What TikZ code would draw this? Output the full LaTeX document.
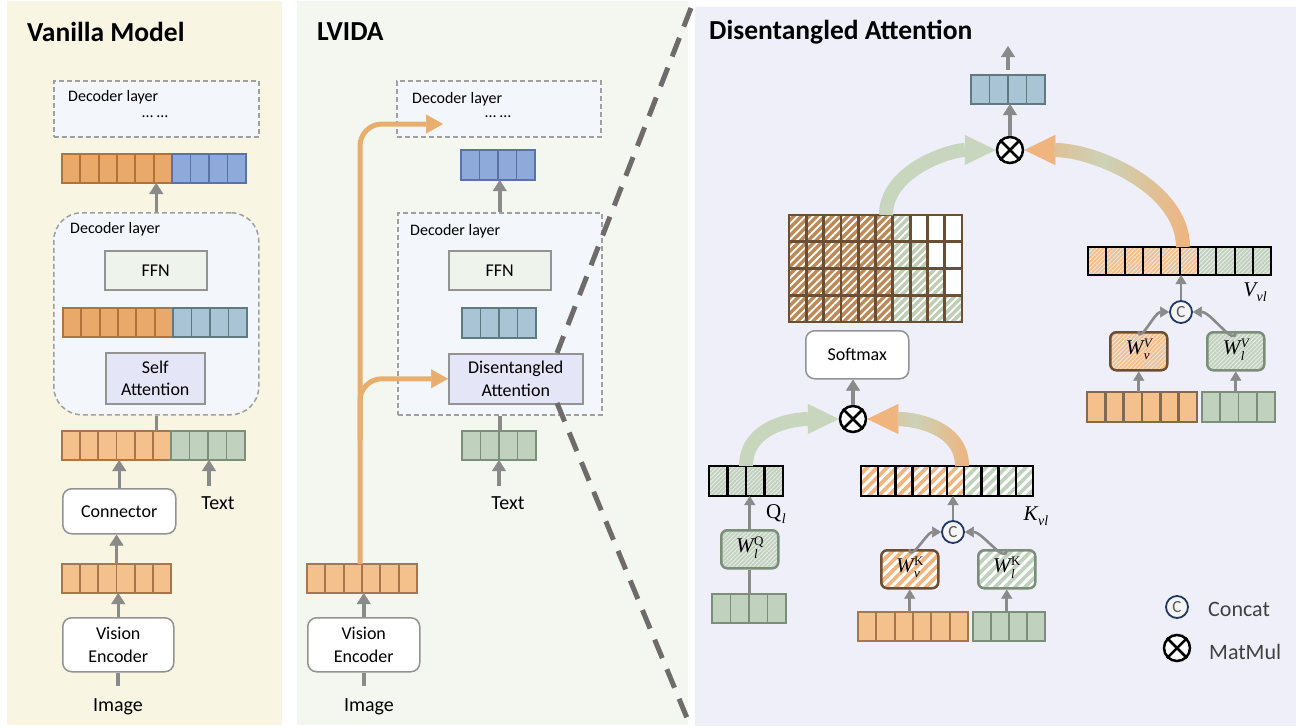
\documentclass[tikz,border=0pt]{standalone}
\usepackage{fontspec}
\setmainfont{Carlito}
\newfontfamily\mfont{Liberation Serif}
\usetikzlibrary{arrows.meta,patterns.meta,fadings}
\newcommand\fsz[2]{\fontsize{#1}{#2}\selectfont}
\newcommand\wl[2]{{\mfont\itshape W}\kern0.5pt{\fsz{13}{12}\mfont\begin{tabular}[c]{@{}l@{}}#1\\{\itshape #2}\end{tabular}}}
\newcommand\sbl[2]{#1\kern0.5pt\raisebox{-5pt}{\fsz{14}{14}\mfont\itshape #2}}
\definecolor{bgL}{HTML}{F8F5E3}
\definecolor{bgM}{HTML}{F4F7F0}
\definecolor{bgR}{HTML}{EFEFFA}
\definecolor{orA}{HTML}{E9A96B}\definecolor{orAd}{HTML}{B0743A}
\definecolor{orB}{HTML}{F4C08C}\definecolor{orBd}{HTML}{A8764A}
\definecolor{blA}{HTML}{8EAADB}\definecolor{blAd}{HTML}{5A72A8}
\definecolor{blB}{HTML}{A9C4D5}\definecolor{blBd}{HTML}{5F7A80}
\definecolor{grA}{HTML}{C0D2BD}\definecolor{grAd}{HTML}{7A8E78}
\definecolor{ffnc}{HTML}{EEF3EC}
\definecolor{attc}{HTML}{E5E5F8}
\definecolor{decc}{HTML}{F3F7FC}
\definecolor{gline}{HTML}{8A8A8A}
\definecolor{oarr}{HTML}{E8AE6E}
\definecolor{brw}{HTML}{BC8A58}\definecolor{brwd}{HTML}{6B4E33}
\definecolor{grH}{HTML}{BFCDB4}
\definecolor{gArr}{HTML}{C8D6BE}
\definecolor{oArr2}{HTML}{F0B47E}
\definecolor{navy}{HTML}{1F3864}
\definecolor{dashg}{HTML}{6F6B6B}
\tikzfading[name=midfade, left color=transparent!100, right color=transparent!100, middle color=transparent!10]
\newcommand\trow[7]{%
  \node[#7, anchor=north west, minimum width=#5pt, minimum height=#6pt, inner sep=0pt, outer sep=0pt] (#1) at (#2,#3) {};
  \pgfmathtruncatemacro\trowm{#4-1}%
  \foreach \k in {1,...,\trowm} {\draw[#7] ({#2+\k*#5/#4},#3) -- ++(0,#6);}%
}
\newcommand\mmx[1]{\draw[line width=2.5pt] (#1.north west) -- (#1.south east) (#1.north east) -- (#1.south west);}
\tikzset{
 cOA/.style={draw=orAd, fill=orA, line width=1.8pt},
 cOB/.style={draw=orBd, fill=orB, line width=1.8pt},
 cOC/.style={draw=brwd!85, fill=orB, line width=2.6pt},
 cBA/.style={draw=blAd, fill=blA, line width=1.8pt},
 cBB/.style={draw=blBd, fill=blB, line width=1.8pt},
 cGA/.style={draw=grAd, fill=grA, line width=1.8pt},
 hK/.style={pattern={Lines[angle=45,distance=7pt,line width=3pt]}, pattern color=white},
 hF/.style={pattern={Lines[angle=45,distance=3pt,line width=0.8pt]}, pattern color=white!85!gray},
 hM/.style={pattern={Lines[angle=45,distance=5.5pt,line width=1.8pt]}, pattern color=white},
 kO/.style={preaction={fill=oArr2}, hK, draw=black, line width=2.5pt},
 kG/.style={preaction={fill=grA}, hK, draw=black, line width=2.5pt},
 vO/.style={preaction={fill=orB}, hF, draw=black, line width=2pt},
 vG/.style={preaction={fill=grA}, hF, draw=black, line width=2pt},
 qG/.style={preaction={fill=grA}, hF, draw=black, line width=2.5pt},
 mbrown/.style={preaction={fill=brw}, hM},
 mgreen/.style={preaction={fill=grH}, hM},
 mwhite/.style={fill=white},
 wbase/.style={line width=2.5pt, rounded corners=6pt, anchor=north west, inner sep=0pt, minimum width=57pt, minimum height=38pt, font=\fsz{21}{22}},
 wO/.style={wbase, preaction={fill=orB}, hF, draw=brwd},
 wOK/.style={wbase, preaction={fill=oArr2}, hK, draw=brwd},
 wG/.style={wbase, preaction={fill=grA}, hF, draw=grAd},
 wGK/.style={wbase, preaction={fill=grA}, hK, draw=grAd},
 decbox/.style={draw=gray!75, dash pattern=on 5pt off 3pt, line width=1.5pt, fill=decc, anchor=north west, inner sep=0pt},
 ffnbox/.style={draw=gray!85, line width=1.5pt, fill=ffnc, anchor=north west, inner sep=0pt, minimum width=102pt, minimum height=39pt, font=\fsz{18}{22}},
 attbox/.style={draw=gray!85, line width=1.5pt, fill=attc, anchor=north west, inner sep=0pt, align=center, font=\fsz{18}{22.5}},
 rbox/.style={draw=gray!85, line width=1.5pt, fill=white, rounded corners=9pt, anchor=north west, inner sep=0pt, align=center, font=\fsz{18}{22.5}},
 lbl/.style={inner sep=0pt, font=\fsz{20}{24}},
 dlbl/.style={inner sep=0pt, anchor=west, font=\fsz{16}{19}},
 ttl/.style={inner sep=0pt, anchor=west, font=\fsz{27.5}{30}\bfseries},
 mlbl/.style={inner sep=0pt, font=\fsz{21}{22}\mfont},
 mmul/.style={circle, draw=black, line width=2.5pt, fill=white, minimum size=26pt, inner sep=0pt},
 ccat/.style={circle, draw=navy, line width=1.8pt, fill=gray!8, minimum size=22pt, inner sep=0pt, font=\fsz{17}{17}, text=gray!70!black},
 garrow/.style={draw=gline, line width=3.5pt, -{Triangle[length=11pt,width=14pt,line width=0.5pt]}},
 garrowS/.style={draw=gline, line width=2.6pt, -{Triangle[length=9pt,width=11pt,line width=0.5pt]}},
 gplain/.style={draw=gline, line width=3.5pt},
 gplainS/.style={draw=gline, line width=2.6pt},
 oarrow/.style={draw=oarr, line width=5pt, rounded corners=22pt, -{Triangle[length=17pt,width=19pt,line width=0.5pt]}},
 bigG/.style={draw=gArr, line width=14pt, -{Triangle[length=31pt,width=30pt,line width=0.5pt]}},
 bigO/.style={draw=oArr2, line width=14pt, -{Triangle[length=31pt,width=30pt,line width=0.5pt]}},
 fadeG/.style={draw=gArr, line width=14pt, shorten >=30pt, path fading=midfade},
 dashz/.style={draw=dashg, line width=5pt, dash pattern=on 20pt off 12pt},
}
\begin{document}
\begin{tikzpicture}[x=1pt,y=-1pt]
\useasboundingbox (0,0) rectangle (1296,726);
\fill[white] (0,0) rectangle (1296,726);
\fill[bgL] (7,1) rectangle (282,725);
\fill[bgM] (297,1) rectangle (688,725);
\fill[bgR] (695,7) rectangle (1296,726);

% ---------------- Vanilla model
\node[ttl] (t1) at (27,32) {Vanilla Model};
\node[decbox, minimum width=205pt, minimum height=56pt] (dtop1) at (53,80) {};
\node[dlbl] (dl1) at (68,97) {Decoder layer};
\node[inner sep=0pt, font=\fsz{16}{19}] (dots1) at (155,117) {… …};
\trow{r1o}{62}{154}{6}{110}{29}{cOA}
\trow{r1b}{172}{154}{4}{74}{29}{cBA}
\node[decbox, rounded corners=28pt, minimum width=205pt, minimum height=202pt] (dec1) at (53,212) {};
\node[dlbl] (dl1b) at (70,229) {Decoder layer};
\node[ffnbox] (ffn1) at (104,250) {FFN};
\trow{r2o}{63}{308}{6}{110}{29}{cOA}
\trow{r2b}{173}{308}{4}{74}{29}{cBB}
\node[attbox, minimum width=99pt, minimum height=51pt] (sa1) at (105,352) {Self\\Attention};
\trow{r3o}{62}{431}{6}{109}{29}{cOB}
\trow{r3g}{171}{431}{4}{74}{29}{cGA}
\node[rbox, minimum width=113pt, minimum height=45pt] (con1) at (62,488) {Connector};
\node[lbl] (tx1) at (218,503) {Text};
\trow{r4o}{62}{564}{6}{109}{29}{cOB}
\node[rbox, minimum width=111pt, minimum height=54pt] (ve1) at (62,617) {Vision\\Encoder};
\node[lbl] (im1) at (118,707) {Image};
\coordinate (im1t) at (118,686);
\coordinate (tx1t) at (209,486);
\draw[garrow] (dec1.north) -- (dec1.north |- r1o.south);
\draw[gplain] (dec1.south) -- (dec1.south |- r3o.north);
\draw[garrow] (con1.north) -- (con1.north |- r3o.south);
\draw[garrow] (tx1t) -- (tx1t |- r3g.south);
\draw[garrow] (r4o.north) -- (r4o.north |- con1.south);
\draw[garrow] (ve1.north) -- (ve1.north |- r4o.south);
\draw[gplain] (im1t) -- (im1t |- ve1.south);

% ---------------- LVIDA
\node[ttl] (t2) at (317,32) {LVIDA};
\node[decbox, minimum width=204pt, minimum height=56pt] (dtop2) at (396,80) {};
\node[dlbl] (dl2) at (412,99) {Decoder layer};
\node[inner sep=0pt, font=\fsz{16}{19}] (dots2) at (498,117) {… …};
\trow{r5b}{461}{150}{4}{74}{30}{cBA}
\node[decbox, minimum width=204pt, minimum height=202pt] (dec2) at (397,212) {};
\node[dlbl] (dl2b) at (410,231) {Decoder layer};
\node[ffnbox] (ffn2) at (448,250) {FFN};
\trow{r6b}{462}{308}{4}{74}{30}{cBB}
\node[attbox, minimum width=134pt, minimum height=50pt] (da) at (448,353) {Disentangled\\Attention};
\trow{r7g}{462}{431}{4}{74}{29}{cGA}
\node[lbl] (tx2) at (508,503) {Text};
\trow{r8o}{307}{564}{6}{110}{29}{cOB}
\node[rbox, minimum width=112pt, minimum height=54pt] (ve2) at (307,617) {Vision\\Encoder};
\node[lbl] (im2) at (369,707) {Image};
\coordinate (im2t) at (364,686);
\coordinate (tx2t) at (499,486);
\draw[garrow] (dec2.north) -- (dec2.north |- r5b.south);
\draw[gplain] (dec2.south) -- (dec2.south |- r7g.north);
\draw[garrow] (tx2t) -- (tx2t |- r7g.south);
\draw[garrow] (ve2.north) -- (ve2.north |- r8o.south);
\draw[gplain] (im2t) -- (im2t |- ve2.south);
\coordinate (otipA) at (443,124);
\coordinate (obr) at (360,440);
\coordinate (obase) at (360,564);
\draw[oarrow] (obase) |- (otipA);
\draw[oarrow] (obr) |- (da.west);

% ---------------- Disentangled attention
\node[ttl] (t3) at (709,32) {Disentangled Attention};
\trow{outr}{971}{75}{4}{74}{29}{cBB}
\coordinate (outt) at (1008,46);
\draw[garrow, shorten <=5pt] (outr.north) -- (outt);

% attention matrix
\foreach \mr in {0,...,3}{\foreach \mc in {0,...,9}{%
  \pgfmathtruncatemacro\mcc{\mc-6}%
  \ifnum\mc<6 \path[mbrown] ({789+\mc*17.3},{215+\mr*26.75}) rectangle ++(17.3,26.75);
  \else\ifnum\mcc>\mr \path[mwhite] ({789+\mc*17.3},{215+\mr*26.75}) rectangle ++(17.3,26.75);
  \else \path[mgreen] ({789+\mc*17.3},{215+\mr*26.75}) rectangle ++(17.3,26.75);
  \fi\fi}}
\node[draw=brwd, line width=2.8pt, minimum width=173pt, minimum height=107pt, anchor=north west, inner sep=0pt, outer sep=0pt] (mat) at (789,215) {};
\foreach \mc in {1,...,9}{\draw[brwd, line width=2.8pt] ({789+\mc*17.3},215) -- ++(0,107);}
\foreach \mr in {1,...,3}{\draw[brwd, line width=2.8pt] (789,{215+\mr*26.75}) -- ++(173,0);}

\node[rbox, minimum width=103pt, minimum height=48pt] (smax) at (805,330) {Softmax};

% Q
\trow{qr}{709}{466}{4}{74}{30}{qG}
\node[mlbl] (ql) at (776,514) {\sbl{Q}{l}};
\node[wG] (wq) at (720,529) {\wl{Q}{l}};
\trow{qin}{712}{594}{4}{74}{29}{cGA}
\draw[garrowS] (wq.north) -- (wq.north |- qr.south);
\draw[gplainS] (wq.south |- qin.north) -- (wq.south);

% K
\trow{kro}{861}{466}{6}{103.2}{30}{kO}
\trow{krg}{964.2}{466}{4}{68.8}{30}{kG}
\node[mlbl] (kl) at (1036,516) {\sbl{\itshape K}{vl}};
\node[ccat] (ck) at (953,532) {C};
\node[wOK] (wvk) at (880,549) {\wl{K}{v}};
\node[wGK] (wlk) at (977,549) {\wl{K}{l}};
\trow{kino}{858}{612}{6}{110}{29}{cOB}
\trow{kinl}{973}{612}{4}{72}{29}{cGA}
\draw[garrowS] (ck.north) -- (ck.north |- kro.south);
\draw[garrowS] (wvk.north) to[out=-90,in=180] (ck.west);
\draw[garrowS] (wlk.north) to[out=-90,in=0] (ck.east);
\draw[garrowS] (wvk.south |- kino.north) -- (wvk.south);
\draw[garrowS] (wlk.south |- kinl.north) -- (wlk.south);

% V
\trow{vro}{1088}{247}{6}{110}{28}{vO}
\trow{vrg}{1198}{247}{4}{73}{28}{vG}
\node[mlbl] (vl) at (1255,292) {\sbl{\itshape V}{vl}};
\node[ccat] (cv) at (1181,312) {C};
\node[wO] (wvv) at (1109,331) {\wl{\itshape V}{v}};
\node[wG] (wlv) at (1206,331) {\wl{\itshape V}{l}};
\trow{vino}{1087}{392}{6}{110}{30}{cOC}
\trow{vinl}{1202}{392}{4}{73}{30}{cGA}
\draw[garrowS] (cv.north) -- (cv.north |- vro.south);
\draw[garrowS] (wvv.north) to[out=-90,in=180] (cv.west);
\draw[garrowS] (wlv.north) to[out=-90,in=0] (cv.east);
\draw[garrowS] (wvv.south |- vino.north) -- (wvv.south);
\draw[garrowS] (wlv.south |- vinl.north) -- (wlv.south);

% matmul nodes
\node[mmul] (mm1) at (1010,150) {};
\node[mmul] (mm2) at (853,419) {};
\draw[garrow] (mm1.north) -- (mm1.north |- outr.south);
\draw[garrow] (mm2.north) -- (mm2.north |- smax.south);

% big curved arrows
\coordinate (matout) at (886,215);
\coordinate (vout) at (1183,247);
\coordinate (kout) at (962,466);
\draw[bigG] (matout) .. controls +(0,-45) and +(-45,0) .. (mm1.west);
\draw[bigO] (vout) .. controls +(0,-60) and +(70,0) .. (mm1.east);
\draw[fadeG] (vout) .. controls +(0,-60) and +(70,0) .. (mm1.east);
\draw[bigG] (qr.north) .. controls +(0,-40) and +(-45,0) .. (mm2.west);
\draw[bigO] (kout) .. controls +(0,-40) and +(45,0) .. (mm2.east);
\draw[fadeG] (kout) .. controls +(0,-40) and +(45,0) .. (mm2.east);
\mmx{mm1}
\mmx{mm2}

% legend
\node[ccat] (lc) at (1177,607) {C};
\node[anchor=west, inner sep=0pt, font=\fsz{22}{25}, text=black!75] (lct) at (1208,609) {Concat};
\node[mmul] (lm) at (1177,648) {};
\mmx{lm}
\node[anchor=west, inner sep=0pt, font=\fsz{22}{25}, text=black!75] (lmt) at (1209,652) {MatMul};

% zoom lines
\coordinate (z1) at (691,8);
\coordinate (z2) at (557,353);
\coordinate (z3) at (557,403);
\coordinate (z4) at (687,718);
\draw[dashz] (z1) -- (z2);
\draw[dashz] (z3) -- (z4);
\end{tikzpicture}
\end{document}
